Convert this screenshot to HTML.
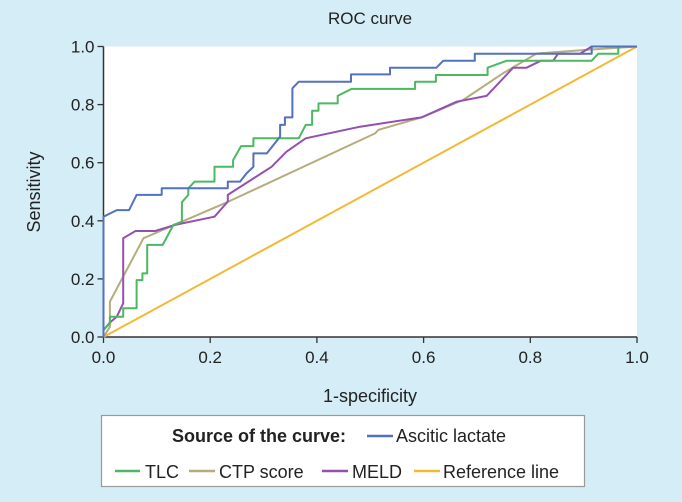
<!DOCTYPE html>
<html><head><meta charset="utf-8"><style>
html,body{margin:0;padding:0;background:#d5edf6;}
svg{display:block;font-family:"Liberation Sans",sans-serif;}
</style></head><body>
<svg width="682" height="502" viewBox="0 0 682 502">
<rect x="0" y="0" width="682" height="502" fill="#d5edf6"/>
<rect x="103.5" y="46.5" width="533.5" height="290.5" fill="#fff"/>
<text x="370" y="24" font-size="17" text-anchor="middle" fill="#222">ROC curve</text>
<g id="axes"></g>
<g id="series"></g>
<text x="370" y="402" font-size="18" text-anchor="middle" fill="#222">1-specificity</text>
<text transform="translate(40,192) rotate(-90)" font-size="18" text-anchor="middle" fill="#222">Sensitivity</text>
<g>
<rect x="101.5" y="415.5" width="483" height="71" fill="#fff" stroke="#9a9a9a" stroke-width="1.2"/>
<text x="172" y="442" font-size="18" font-weight="bold" fill="#222">Source of the curve:</text>
<line x1="367" y1="436" x2="393" y2="436" stroke="#5470c0" stroke-width="2.5"/>
<text x="396" y="442" font-size="18" fill="#222">Ascitic lactate</text>
<line x1="115" y1="471" x2="140" y2="471" stroke="#4cb862" stroke-width="2.5"/>
<text x="145" y="478" font-size="18" fill="#222">TLC</text>
<line x1="189" y1="471" x2="215" y2="471" stroke="#b5ad7c" stroke-width="2.5"/>
<text x="219" y="478" font-size="18" fill="#222">CTP score</text>
<line x1="322" y1="471" x2="348" y2="471" stroke="#9350b0" stroke-width="2.5"/>
<text x="352" y="478" font-size="18" fill="#222">MELD</text>
<line x1="414" y1="471" x2="440" y2="471" stroke="#f4b833" stroke-width="2.5"/>
<text x="443" y="478" font-size="18" fill="#222">Reference line</text>
</g>
</svg>
<script>
const xTicks=[0,0.2,0.4,0.6,0.8,1.0];
const yTicks=[0,0.2,0.4,0.6,0.8,1.0];
const tickLabels=["0.0","0.2","0.4","0.6","0.8","1.0"];
const lactateX=[0,0,0.025,0.048,0.062,0.109,0.109,0.233,0.233,0.256,0.268,0.281,0.281,0.306,0.331,0.331,0.340,0.340,0.354,0.354,0.366,0.464,0.464,0.537,0.537,0.624,0.637,0.696,0.696,0.915,0.915,1];
const lactateY=[0,0.414,0.437,0.437,0.489,0.489,0.512,0.512,0.535,0.535,0.563,0.586,0.632,0.632,0.690,0.730,0.730,0.756,0.756,0.856,0.879,0.879,0.904,0.904,0.927,0.927,0.951,0.951,0.975,0.975,1.0,1.0];
const tlcX=[0,0.012,0.012,0.037,0.037,0.062,0.062,0.073,0.073,0.082,0.082,0.095,0.095,0.111,0.131,0.147,0.147,0.159,0.159,0.171,0.208,0.208,0.243,0.243,0.258,0.281,0.281,0.366,0.379,0.391,0.391,0.403,0.403,0.439,0.439,0.465,0.584,0.584,0.623,0.623,0.720,0.720,0.756,0.915,0.927,0.965,0.965,1];
const tlcY=[0.024,0.047,0.070,0.070,0.099,0.099,0.196,0.196,0.219,0.219,0.317,0.317,0.317,0.317,0.386,0.397,0.464,0.489,0.512,0.535,0.535,0.586,0.586,0.609,0.657,0.657,0.684,0.684,0.730,0.730,0.779,0.779,0.804,0.804,0.830,0.854,0.854,0.879,0.879,0.902,0.902,0.927,0.951,0.951,0.975,0.975,1.0,1.0];
const ctpX=[0,0.012,0.012,0.075,0.233,0.509,0.515,0.596,0.674,0.749,0.812,0.918,1];
const ctpY=[0,0.035,0.122,0.340,0.465,0.701,0.713,0.756,0.816,0.908,0.976,0.990,1.0];
const meldX=[0,0.012,0.025,0.037,0.037,0.060,0.097,0.134,0.208,0.233,0.233,0.315,0.343,0.379,0.481,0.596,0.662,0.718,0.768,0.793,0.820,0.843,0.852,0.893,0.915];
const meldY=[0.024,0.050,0.070,0.116,0.340,0.365,0.365,0.386,0.414,0.466,0.489,0.586,0.638,0.684,0.724,0.756,0.810,0.830,0.927,0.927,0.951,0.951,0.975,0.975,1.0];
const refX=[0,1];
const refY=[0,1];
const X0=103.5,XW=533.5,Y0=337,YH=290.5;
function sx(v){return X0+v*XW;}
function sy(v){return Y0-v*YH;}
const NS="http://www.w3.org/2000/svg";
const axes=document.getElementById('axes');
function mk(tag,attrs,parent){const e=document.createElementNS(NS,tag);for(const k in attrs)e.setAttribute(k,attrs[k]);parent.appendChild(e);return e;}
xTicks.forEach((t,i)=>{
  const l=mk('line',{x1:sx(t),x2:sx(t),y1:Y0,y2:Y0+6,stroke:'#333','stroke-width':1.3},axes);
  
  
  const tx=mk('text',{x:sx(t),y:Y0+26,'font-size':17,'text-anchor':'middle',fill:'#222'},axes);
  tx.textContent=tickLabels[i];
  
  
});
yTicks.forEach((t,i)=>{
  const l=mk('line',{x1:X0-6,x2:X0,y1:sy(t),y2:sy(t),stroke:'#333','stroke-width':1.3},axes);
  
  
  const tx=mk('text',{x:X0-9,y:sy(t)+6,'font-size':17,'text-anchor':'end',fill:'#222'},axes);
  tx.textContent=tickLabels[i];
  
  
});
const xa=mk('line',{x1:X0,x2:X0+XW,y1:Y0,y2:Y0,stroke:'#333','stroke-width':1.5},axes);


const ya=mk('line',{x1:X0,x2:X0,y1:Y0,y2:Y0-YH,stroke:'#333','stroke-width':1.5},axes);


const series=document.getElementById('series');
function drawLine(xs,ys,color,name){
  const pts=xs.map((x,i)=>sx(x).toFixed(1)+','+sy(ys[i]).toFixed(1)).join(' ');
  const p=mk('polyline',{points:pts,fill:'none',stroke:color,'stroke-width':2,'stroke-linejoin':'round'},series);
  
  
}
drawLine(refX,refY,'#f4b833','reference-line');
drawLine(ctpX,ctpY,'#b5ad7c','ctp-score-curve');
drawLine(meldX,meldY,'#9350b0','meld-curve');
drawLine(tlcX,tlcY,'#4cb862','tlc-curve');
drawLine(lactateX,lactateY,'#5470c0','ascitic-lactate-curve');
</script>
</body></html>
